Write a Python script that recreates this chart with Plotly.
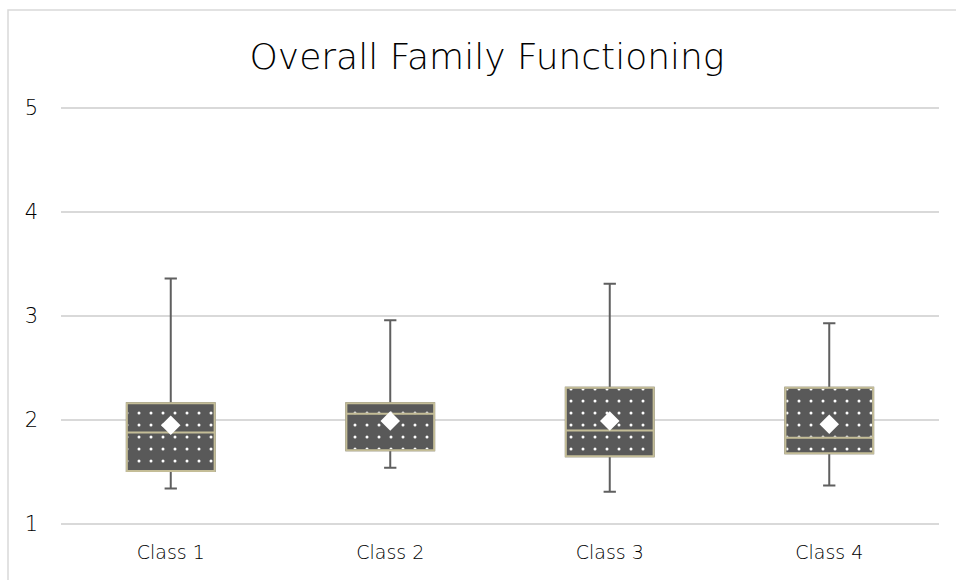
import plotly.graph_objects as go

# Five-number summaries and means per class
classes = ["Class 1", "Class 2", "Class 3", "Class 4"]
lower_whisker = [1.34, 1.54, 1.31, 1.37]
q1 = [1.51, 1.71, 1.65, 1.68]
median = [1.88, 2.06, 1.90, 1.83]
q3 = [2.16, 2.16, 2.31, 2.31]
upper_whisker = [3.36, 2.96, 3.31, 2.93]
mean = [1.95, 1.99, 1.99, 1.96]

y_ticks = [1, 2, 3, 4, 5]

FONT = "DejaVu Sans, Century Gothic, sans-serif"
TEXT = "#000000"
BOX_FILL = "#595959"
BOX_EDGE = "#C4BD97"
WHISKER = "#5f5f5f"
GRID = "#d9d9d9"
BOX_W = 0.4

fig = go.Figure()

# Dotted box bodies (q1 -> q3)
fig.add_trace(go.Bar(
    x=classes,
    y=[b - a for a, b in zip(q1, q3)],
    base=q1,
    width=BOX_W,
    marker=dict(
        color=BOX_FILL,
        line=dict(width=0),
        pattern=dict(shape=".", fgcolor="white", bgcolor=BOX_FILL,
                     size=12, solidity=0.05, fillmode="replace"),
    ),
    hoverinfo="skip",
    showlegend=False,
))

# Whiskers with caps
fig.add_trace(go.Box(
    x=classes,
    q1=q1, median=median, q3=q3,
    lowerfence=lower_whisker, upperfence=upper_whisker,
    width=BOX_W,
    whiskerwidth=0.14,
    fillcolor="rgba(0,0,0,0)",
    line=dict(color=WHISKER, width=2),
    showlegend=False,
))

# Tan outline and median line
fig.add_trace(go.Box(
    x=classes,
    q1=q1, median=median, q3=q3,
    lowerfence=q1, upperfence=q3,
    width=BOX_W,
    whiskerwidth=0,
    fillcolor="rgba(0,0,0,0)",
    line=dict(color=BOX_EDGE, width=2),
    showlegend=False,
))

# Mean markers
fig.add_trace(go.Scatter(
    x=classes, y=mean,
    mode="markers",
    marker=dict(symbol="diamond", size=15, color="white",
                line=dict(color="white", width=0)),
    showlegend=False,
))

# Layout geometry (pixels)
W, H = 956, 580
L, R, T, B = 61, 17, 107, 55
Y_RANGE = [0.99, 5.01]
pw, ph = W - L - R, H - T - B

# Outer chart border
fig.add_shape(
    type="rect", xref="paper", yref="paper",
    x0=(8 - L) / pw, x1=(W + 4 - L) / pw,
    y0=-(B + 4) / ph, y1=(H - B - 10) / ph,
    line=dict(color=GRID, width=1.5), fillcolor="rgba(0,0,0,0)",
    layer="below",
)

fig.update_layout(
    width=W, height=H,
    margin=dict(l=L, r=R, t=T, b=B),
    paper_bgcolor="white", plot_bgcolor="white",
    boxmode="overlay", barmode="overlay",
    font=dict(family=FONT, color=TEXT, size=19, weight=200),
    title=dict(
        text="Overall Family Functioning",
        font=dict(family=FONT, size=36, color=TEXT, weight=200),
        xref="container", yref="container",
        x=487 / W, y=1 - 56 / H, xanchor="center", yanchor="middle",
    ),
    xaxis=dict(
        type="category", categoryorder="array", categoryarray=classes,
        showgrid=False, showline=False, zeroline=False,
        ticks="", ticklabelstandoff=14,
        tickfont=dict(family=FONT, size=19, color=TEXT, weight=200),
    ),
    yaxis=dict(
        range=Y_RANGE, tickvals=y_ticks, showgrid=True, gridcolor=GRID, gridwidth=2,
        zeroline=False, showline=False, ticks="", ticklabelstandoff=22,
        tickfont=dict(family=FONT, size=21, color=TEXT, weight=200),
    ),
)

fig.write_html("out.html")
